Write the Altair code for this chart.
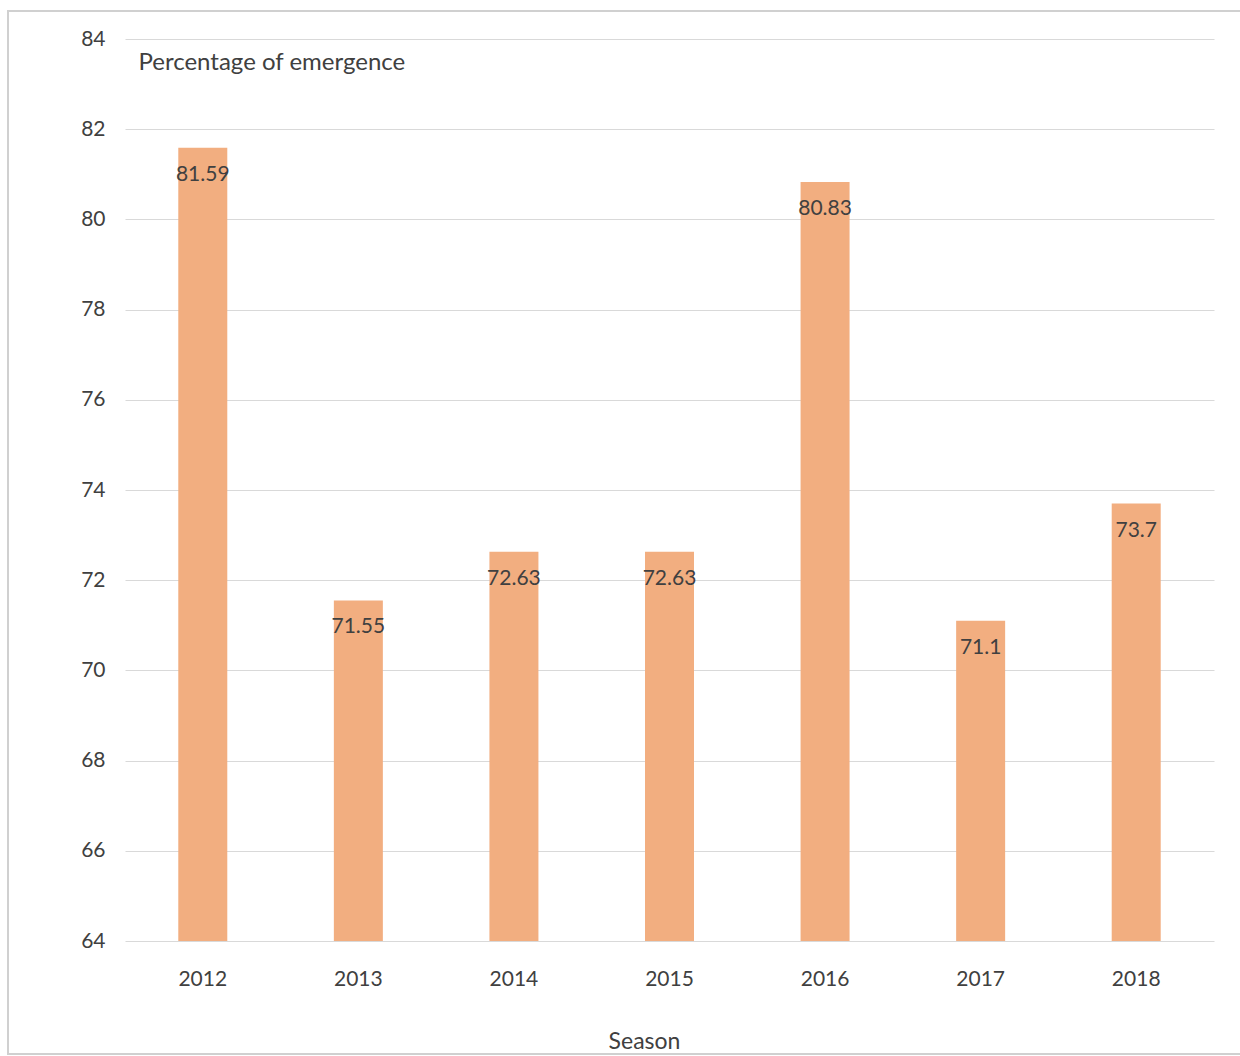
import altair as alt
import pandas as pd

seasons = ["2012", "2013", "2014", "2015", "2016", "2017", "2018"]
values = [81.59, 71.55, 72.63, 72.63, 80.83, 71.1, 73.7]
labels = ["81.59", "71.55", "72.63", "72.63", "80.83", "71.1", "73.7"]
y_ticks = [64, 66, 68, 70, 72, 74, 76, 78, 80, 82, 84]
y_min, y_max = 64, 84

df = pd.DataFrame({"Season": seasons, "value": values, "label": labels})

FONT = "Lato"
TXT = "#404040"

x_enc = alt.X(
    "Season:N",
    sort=seasons,
    scale=alt.Scale(paddingInner=0, paddingOuter=0),
    axis=alt.Axis(
        title="Season",
        titleFont=FONT, titleFontSize=23, titleFontWeight="normal", titleColor=TXT,
        titleX=519, titleY=107, titleBaseline="alphabetic",
        labelAngle=0, labelFont=FONT, labelFontSize=21, labelColor=TXT,
        labelPadding=27, ticks=False, domain=False, grid=False,
    ),
)
y_enc = alt.Y(
    "value:Q",
    scale=alt.Scale(domain=[y_min, y_max], zero=False, nice=False),
    axis=alt.Axis(
        title="Percentage of emergence",
        titleAngle=0, titleAlign="left", titleBaseline="middle",
        titleX=13, titleY=23,
        titleFont=FONT, titleFontSize=24, titleFontWeight="normal", titleColor=TXT,
        values=y_ticks, labelFont=FONT, labelFontSize=21, labelColor=TXT,
        labelPadding=20, ticks=False, domain=False,
        gridColor="#d9d9d9", gridWidth=1,
    ),
)

bars = alt.Chart(df).mark_bar(size=49, color="#F2AE80").encode(
    x=x_enc, y=y_enc, y2=alt.Y2(datum=y_min)
)
text = alt.Chart(df).mark_text(
    baseline="middle", align="center", dy=27, font=FONT, fontSize=21, color=TXT
).encode(x=alt.X("Season:N", sort=seasons), y="value:Q", text="label:N")

border = alt.Chart(df).mark_rect(fill=None, stroke="#d0d0d0", strokeWidth=1.5).encode(
    x=alt.value(-117), x2=alt.value(1135), y=alt.value(-28), y2=alt.value(1015)
)

chart = (
    alt.layer(border, bars, text)
    .properties(
        width=1089, height=902,
        autosize=alt.AutoSizeParams(type="none"),
        padding={"left": 125, "top": 39, "right": 26, "bottom": 115},
        background="white",
    )
    .configure_view(stroke=None)
)

chart.save("out.html", embed_options={"renderer": "svg", "actions": False})
